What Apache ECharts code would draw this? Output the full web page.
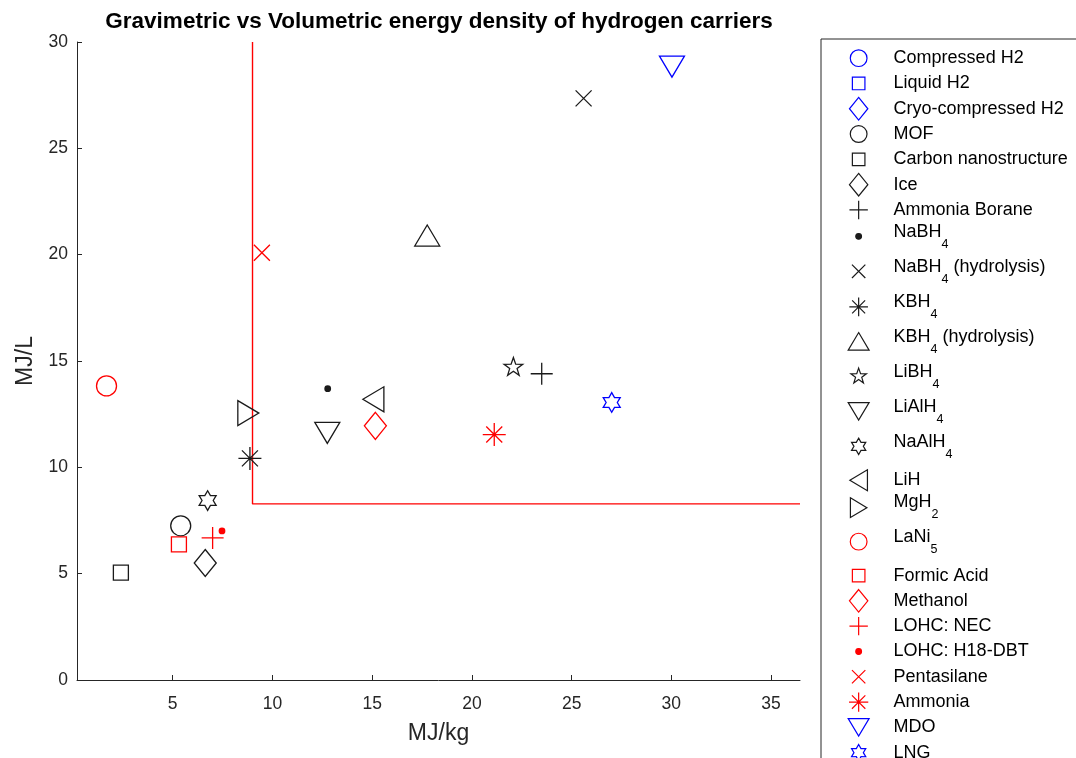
<!DOCTYPE html>
<html><head><meta charset="utf-8">
<script src="https://cdn.jsdelivr.net/npm/echarts@6/dist/echarts.min.js"></script>
<style>html,body{margin:0;padding:0;background:#fff}#c{width:1076px;height:758px}</style>
</head><body><div id="c"></div>
<script>
// ---------- data ----------
const carriers = ['Compressed H2','Liquid H2','Cryo-compressed H2','MOF','Carbon nanostructure','Ice','Ammonia Borane','NaBH4','NaBH4 (hydrolysis)','KBH4','KBH4 (hydrolysis)','LiBH4','LiAlH4','NaAlH4','LiH','MgH2','LaNi5','Formic Acid','Methanol','LOHC: NEC','LOHC: H18-DBT','Pentasilane','Ammonia','MDO','LNG'];
// gravimetric energy density, MJ/kg (null = outside the plotted range)
const gravimetric = [null,null,null,5.4,2.4,6.63,23.5,12.77,25.6,8.87,17.76,22.08,12.75,6.75,15.06,8.79,1.68,5.31,15.16,7.0,7.47,9.47,21.12,30.03,27.01];
// volumetric energy density, MJ/L
const volumetric = [null,null,null,7.25,5.05,5.5,14.4,13.7,27.35,10.42,20.9,14.7,11.62,8.44,13.2,12.55,13.83,6.38,11.95,6.68,7.01,20.09,11.54,28.84,13.05];
const targetGravimetric = 9;     // MJ/kg
const targetVolumetric = 8.28;   // MJ/L
const xLimits = [0.2, 36.45];
const yLimits = [0, 30];
const xTicks = [5,10,15,20,25,30,35];
const yTicks = [0,5,10,15,20,25,30];
const subscripted = ['NaBH4','NaBH4 (hydrolysis)','KBH4','KBH4 (hydrolysis)','LiBH4','LiAlH4','NaAlH4','MgH2','LaNi5'];

// ---------- styles ----------
const markerShape = ['o','s','d','o','s','d','+','.','x','*','^','p','v','h','<','>','o','s','d','+','.','x','*','v','h'];
const markerColor = ['b','b','b','k','k','k','k','k','k','k','k','k','k','k','k','k','r','r','r','r','r','r','r','b','b'];
const colorMap = {b:'#0000ff', k:'#1a1a1a', r:'#ff0000'};

// marker outlines in a 30x30 frame, centre (15, c)
function star(n, R, r, c){
  let d = '';
  for (let i = 0; i < 2*n; i++) {
    const a = -Math.PI/2 + i*Math.PI/n;
    const rr = i % 2 === 0 ? R : r;
    d += (i === 0 ? 'M' : 'L') + (15 + rr*Math.cos(a)).toFixed(2) + ' ' + (c + rr*Math.sin(a)).toFixed(2) + ' ';
  }
  return d + 'Z';
}
const shapeFns = {
  'o': c => `M5 ${c} A10 10 0 1 1 25 ${c} A10 10 0 1 1 5 ${c} Z`,
  's': c => `M7.5 ${c-7.5} L22.5 ${c-7.5} L22.5 ${c+7.5} L7.5 ${c+7.5} Z`,
  'd': c => `M15 ${c-13.5} L26 ${c} L15 ${c+13.5} L4 ${c} Z`,
  '^': c => `M15 ${c-10.5} L27.5 ${c+10.5} L2.5 ${c+10.5} Z`,
  'v': c => `M2.5 ${c-10.5} L27.5 ${c-10.5} L15 ${c+10.5} Z`,
  '<': c => `M4.5 ${c} L25.5 ${c-12.5} L25.5 ${c+12.5} Z`,
  '>': c => `M4.5 ${c-12.5} L25.5 ${c} L4.5 ${c+12.5} Z`,
  '+': c => `M4 ${c} L26 ${c} M15 ${c-11} L15 ${c+11}`,
  'x': c => `M7 ${c-8} L23 ${c+8} M23 ${c-8} L7 ${c+8}`,
  '*': c => `M3.5 ${c} L26.5 ${c} M15 ${c-11.5} L15 ${c+11.5} M7 ${c-8} L23 ${c+8} M23 ${c-8} L7 ${c+8}`,
  'p': c => star(5, 9.8, 3.9, c),
  'h': c => star(6, 9.8, 5.6, c),
  '.': c => `M11.6 ${c} A3.4 3.4 0 1 1 18.4 ${c} A3.4 3.4 0 1 1 11.6 ${c} Z`
};
function symbolPath(shape, c){ return 'path://M0 0 M30 30 ' + shapeFns[shape](c); }

const FONT = 'Liberation Sans, Arial, Helvetica, sans-serif';

const series = [{
  type: 'line',
  name: 'target',
  data: [[targetGravimetric, yLimits[1]], [targetGravimetric, targetVolumetric], [xLimits[1], targetVolumetric]],
  showSymbol: false,
  symbol: 'none',
  lineStyle: {color: '#ff0000', width: 1.4},
  silent: true,
  z: 1
}];
carriers.forEach((name, i) => {
  const c = colorMap[markerColor[i]];
  const filled = markerShape[i] === '.';
  series.push({
    type: 'scatter',
    name: name,
    data: gravimetric[i] == null ? [] : [[gravimetric[i], volumetric[i]]],
    symbol: symbolPath(markerShape[i], 15),
    symbolSize: 30,
    itemStyle: {color: filled ? c : 'rgba(0,0,0,0)', borderColor: c, borderWidth: filled ? 0 : 1.3, opacity: 1},
    emphasis: {disabled: true},
    z: 3
  });
});

// legend entries: subscripted rows have their marker sitting a little higher
const legendData = carriers.map((name, i) => ({
  name: name,
  icon: symbolPath(markerShape[i], subscripted.indexOf(name) >= 0 ? 10.5 : 15)
}));

const chart = echarts.init(document.getElementById('c'), null, {renderer: 'canvas'});
chart.setOption({
  backgroundColor: '#ffffff',
  animation: false,
  title: {
    text: 'Gravimetric vs Volumetric energy density of hydrogen carriers',
    left: 439, top: 10, textAlign: 'center', padding: 0,
    textStyle: {fontFamily: FONT, fontSize: 22.5, fontWeight: 'bold', color: '#000'}
  },
  grid: {left: 77, top: 42, right: 276, bottom: 78, containLabel: false},
  xAxis: {
    type: 'value', min: xLimits[0], max: xLimits[1],
    name: 'MJ/kg', nameLocation: 'middle', nameGap: 42,
    nameTextStyle: {fontFamily: FONT, fontSize: 23, color: '#262626'},
    axisLine: {show: true, onZero: false, lineStyle: {color: '#262626', width: 1}},
    axisTick: {show: true, inside: true, length: 5, customValues: xTicks, lineStyle: {color: '#262626'}},
    axisLabel: {customValues: xTicks, fontFamily: FONT, fontSize: 17.5, color: '#262626', margin: 15},
    splitLine: {show: false}
  },
  yAxis: {
    type: 'value', min: yLimits[0], max: yLimits[1], interval: 5,
    name: 'MJ/L', nameLocation: 'middle', nameGap: 35,
    nameTextStyle: {fontFamily: FONT, fontSize: 23, color: '#262626'},
    axisLine: {show: true, onZero: false, lineStyle: {color: '#262626', width: 1}},
    axisTick: {show: true, inside: true, length: 5, lineStyle: {color: '#262626'}},
    axisLabel: {fontFamily: FONT, fontSize: 17.5, color: '#262626', margin: 9},
    splitLine: {show: false}
  },
  legend: {
    data: legendData,
    orient: 'vertical',
    left: 821, top: 39, height: 1200,
    padding: [6, 40, 10, 24.5],
    itemGap: -1, itemWidth: 25.1, itemHeight: 25.1,
    selectedMode: false,
    borderColor: '#262626', borderWidth: 1, backgroundColor: '#fff',
    itemStyle: {borderWidth: 1.2},
    textStyle: {
      fontFamily: FONT, fontSize: 18, color: '#000',
      rich: {
        g: {width: 17.4, height: 25, lineHeight: 25, verticalAlign: 'top', fontFamily: FONT, fontSize: 18},
        n: {height: 25, lineHeight: 25, verticalAlign: 'top', fontFamily: FONT, fontSize: 18, color: '#000'},
        m: {height: 19, lineHeight: 19, verticalAlign: 'top', fontFamily: FONT, fontSize: 18, color: '#000'},
        s: {height: 24, lineHeight: 36, padding: [10, 0, 2, 0], verticalAlign: 'top', fontFamily: FONT, fontSize: 12.5, color: '#000'}
      }
    },
    formatter: function (name) {
      if (subscripted.indexOf(name) >= 0) {
        const m = name.match(/^(\D+?)(\d)(.*)$/);
        let s = '{g| }{m|' + m[1] + '}{s|' + m[2] + '}';
        if (m[3]) s += '{m|' + m[3] + '}';
        return s;
      }
      return '{g| }{n|' + name + '}';
    }
  },
  series: series
});
</script>
</body></html>
